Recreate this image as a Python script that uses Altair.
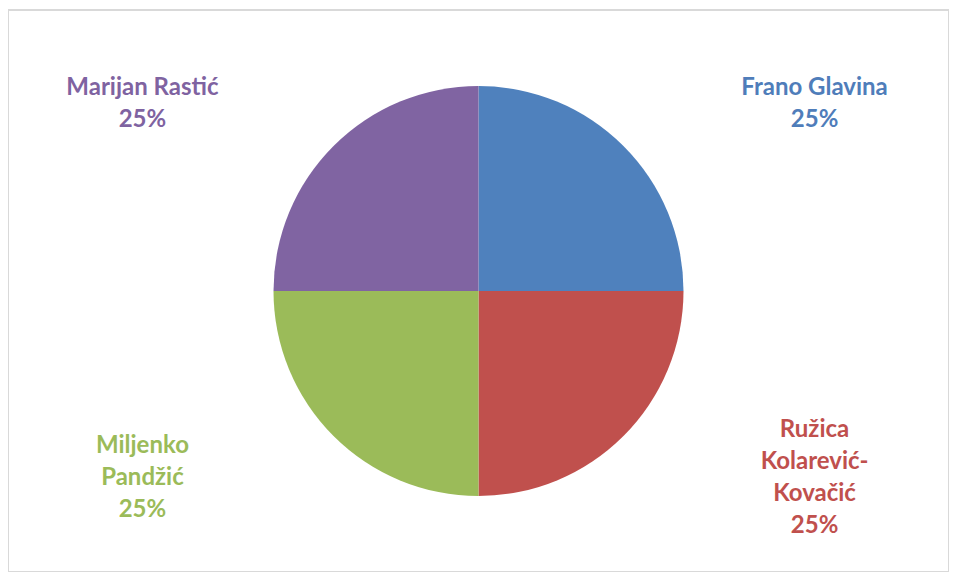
import altair as alt
import pandas as pd

names = ["Frano Glavina", "Ružica Kolarević-Kovačić", "Miljenko Pandžić", "Marijan Rastić"]
label_lines = ["Frano Glavina", "Ružica\nKolarević-\nKovačić", "Miljenko\nPandžić", "Marijan Rastić"]
values = [25, 25, 25, 25]
colors = ["#4F81BD", "#C0504D", "#9BBB59", "#8064A2"]
text_colors = ["#4F7DBA", "#C0504D", "#9BBB59", "#7F63A1"]

W, H = 941, 562
XD, YD = 0.99, 1.06
LINE_PX = 32
LINE_STEP = LINE_PX * (2 * YD) / H

df = pd.DataFrame({
    "name": names,
    "lines": label_lines,
    "value": values,
    "order": list(range(len(names))),
})

color_scale = alt.Scale(domain=names, range=colors)
text_scale = alt.Scale(domain=names, range=text_colors)

base = alt.Chart(df)

pie = base.mark_arc(outerRadius=205, strokeWidth=0).encode(
    theta=alt.Theta("value:Q", stack=True),
    color=alt.Color("name:N", scale=color_scale, legend=None),
    order=alt.Order("order:Q"),
)

labels = base.transform_joinaggregate(
    total="sum(value)"
).transform_window(
    cum="sum(value)", sort=[alt.SortField("order")]
).transform_calculate(
    mid="(datum.cum - datum.value / 2) / datum.total * 2 * PI",
    lx="sin(datum.mid)",
    ly="cos(datum.mid)",
    label="datum.lines + '\\n' + format(datum.value / datum.total, '.0%')",
).transform_calculate(
    parts="split(datum.label, '\\n')",
).transform_calculate(
    nlines="length(datum.parts)",
).transform_flatten(
    ["parts"], as_=["line"]
).transform_window(
    idx="row_number()", groupby=["name"]
).transform_calculate(
    ly2=f"datum.ly + ((datum.nlines - 1) / 2 - (datum.idx - 1)) * {LINE_STEP}",
).mark_text(
    font="Lato", fontSize=24, fontWeight="bold",
    align="center", baseline="middle",
).encode(
    x=alt.X("lx:Q", scale=alt.Scale(domain=[-XD, XD]), axis=None),
    y=alt.Y("ly2:Q", scale=alt.Scale(domain=[-YD, YD]), axis=None),
    text="line:N",
    color=alt.Color("name:N", scale=text_scale, legend=None),
)

chart = alt.layer(pie, labels).resolve_scale(color="independent").properties(
    width=W, height=H, padding={"left": 0, "top": 2, "right": 0, "bottom": 0}
).configure_view(stroke="#d9d9d9", strokeWidth=2)

chart.save("out.html", embed_options={"renderer": "svg", "actions": False})
